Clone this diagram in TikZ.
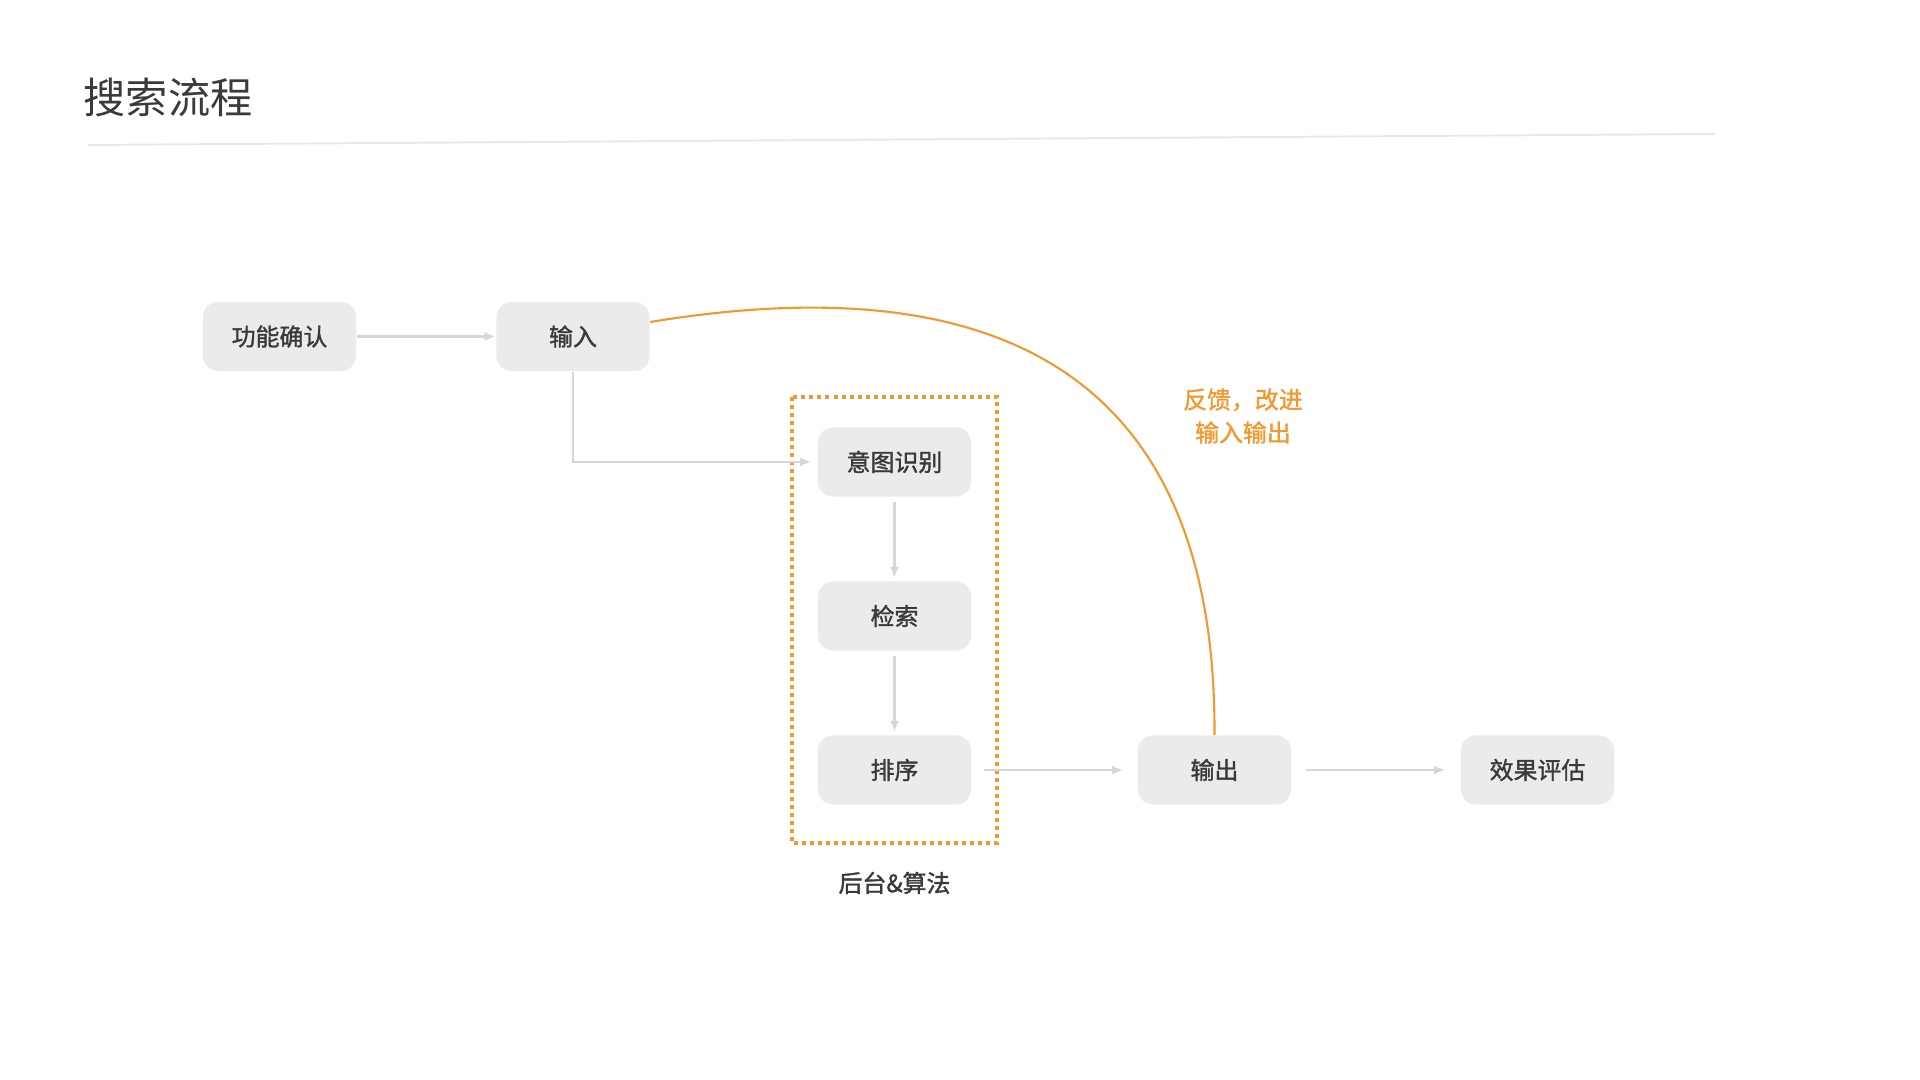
\documentclass[tikz,border=0pt]{standalone}
\usepackage{fontspec}
\setmainfont{Noto Sans CJK SC}
\newfontfamily\cjkmid{Noto Sans CJK SC}[FakeBold=1.4]
\usetikzlibrary{arrows.meta}
\definecolor{boxgray}{HTML}{EBEBEB}
\definecolor{txtgray}{HTML}{3A3A3A}
\definecolor{linegray}{HTML}{D6D6D6}
\definecolor{rulegray}{HTML}{E8E8E8}
\definecolor{fborange}{HTML}{F2982E}
\tikzstyle{stepbox} = [rectangle, rounded corners=0.15cm, fill=boxgray,
    minimum width=1.53cm, minimum height=0.69cm, inner sep=0pt,
    text=txtgray, font=\cjkmid\fontsize{6.8}{8}\selectfont]
\tikzstyle{link} = [draw=linegray, line width=0.6pt, -{Latex[length=1.1mm,width=0.9mm]}]
\tikzstyle{backend} = [draw=fborange, line width=0.04cm, dash pattern=on 0.04cm off 0.04cm]
\tikzstyle{feedback} = [draw=fborange, line width=0.6pt]

\begin{document}
\begin{tikzpicture}[x=0.01cm,y=-0.01cm]
\useasboundingbox (0,0) rectangle (1920,1080);

% title
\node[anchor=west, inner sep=0pt, text=txtgray, font=\fontsize{12}{14}\selectfont] (title) at (83,97) {搜索流程};
\draw[rulegray, line width=0.55pt] (88,145) -- (1715,134);

% steps
\node[stepbox] (confirm) at (279.5,336.5) {功能确认};
\node[stepbox] (input) at (573,336.5) {输入};
\node[stepbox] (intent) at (894.5,462) {意图识别};
\node[stepbox] (search) at (894.5,616) {检索};
\node[stepbox] (rank) at (894.5,770) {排序};
\node[stepbox] (output) at (1214.5,770) {输出};
\node[stepbox] (eval) at (1537.5,770) {效果评估};

% backend group
\draw[backend] (792,397) rectangle (997,843);
\node[text=txtgray, font=\cjkmid\fontsize{6.8}{8}\selectfont] (backlabel) at (894.5,883) {后台\&算法};

\draw[link] (confirm) -- (input);
\draw[link] (input.south) |- ([xshift=-0.06cm]intent.west);
\draw[link, shorten <=0.05cm, shorten >=0.03cm] (intent) -- (search);
\draw[link, shorten <=0.05cm, shorten >=0.03cm] (search) -- (rank);
\draw[link, shorten <=0.12cm, shorten >=0.14cm] (rank) -- (output);
\draw[link, shorten <=0.14cm, shorten >=0.15cm] (output) -- (eval);

% feedback loop
\draw[feedback] ([yshift=0.145cm]input.east) .. controls (1040,258) and (1216,410) .. (output.north);
\node[align=center, text=fborange, font=\cjkmid\fontsize{6.8}{9.4}\selectfont] (fbnote) at (1243,416) {反馈，改进\\输入输出};

\end{tikzpicture}
\end{document}
